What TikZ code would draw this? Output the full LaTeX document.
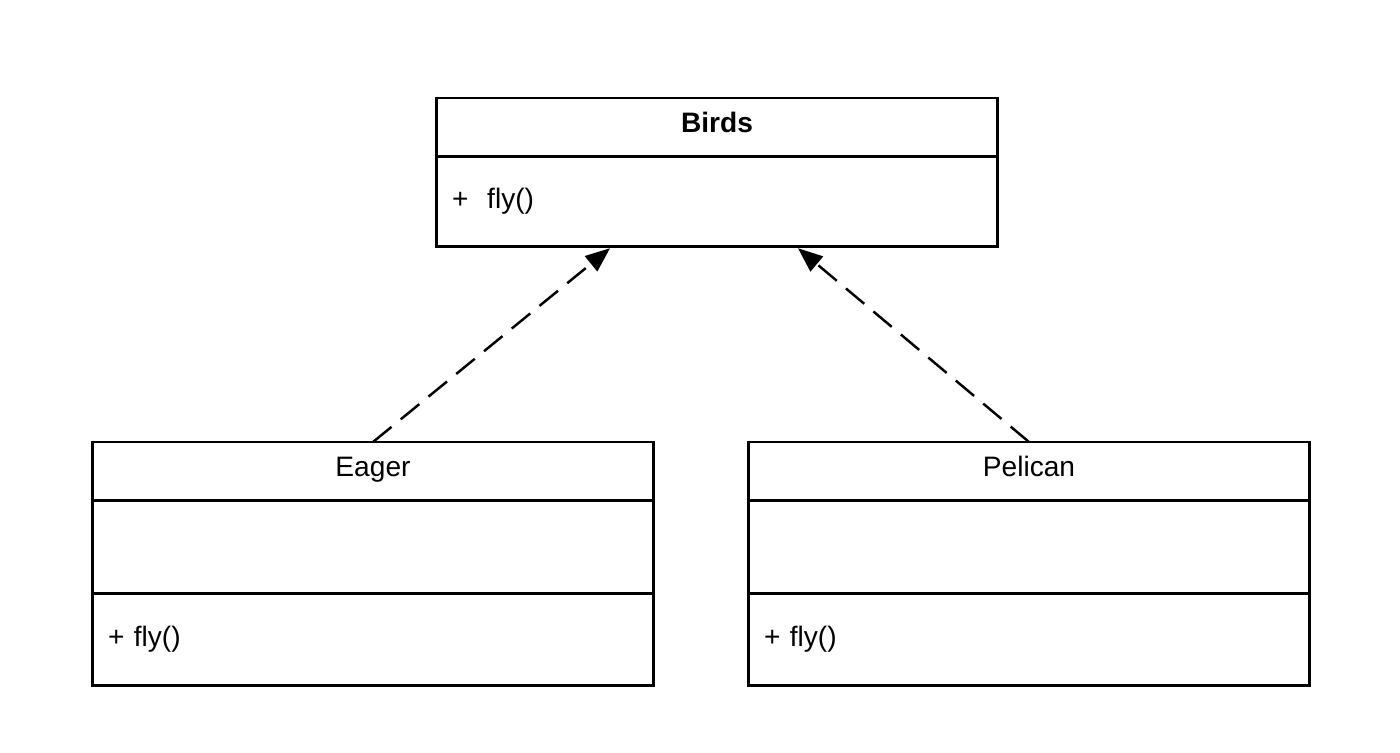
\documentclass[tikz,border=0pt]{standalone}
\usepackage{fontspec}
\setmainfont{Liberation Sans}
\usetikzlibrary{positioning,arrows.meta}
\tikzset{class name/.style={draw,line width=1.3pt,minimum width=11.24cm,minimum height=1.17cm,inner sep=0pt,outer sep=0pt,text height=0.72em,text depth=0.12em,font=\fontsize{16}{19}\selectfont},
	class part/.style={draw,line width=1.3pt,minimum width=11.24cm,text width=10.6cm,inner xsep=0.32cm,inner ysep=0pt,outer sep=0pt,align=left,font=\fontsize{16}{19}\selectfont},
	class frame/.style={line width=1.7pt},
	dep line/.style={line width=1.4pt,dash pattern=on 13.6pt off 6.8pt,-{Triangle[length=14pt,width=11pt]}},
}

\begin{document}
\begin{tikzpicture}[x=0.02cm,y=-0.02cm]
			\useasboundingbox (0,0) rectangle (1400,753);
			
			%% parent class
			\node[class name,font=\fontsize{16}{19}\selectfont\bfseries,anchor=north] (birds) at (717,98) {Birds};
			\node[class part,minimum height=1.8cm] (birdsops) [below = 0pt of birds] {+\ \ fly()};
			\draw[class frame] (birds.north west) rectangle (birdsops.south east);
			
			%% children
			\node[class name,anchor=north] (eager) at (373,442) {Eager};
			\node[class part,minimum height=1.86cm] (eagerattr) [below = 0pt of eager] {};
			\node[class part,minimum height=1.84cm] (eagerops) [below = 0pt of eagerattr] {+ fly()};
			\draw[class frame] (eager.north west) rectangle (eagerops.south east);
			
			\node[class name,anchor=north] (pelican) at (1029,442) {Pelican};
			\node[class part,minimum height=1.86cm] (pelicanattr) [below = 0pt of pelican] {};
			\node[class part,minimum height=1.84cm] (pelicanops) [below = 0pt of pelicanattr] {+ fly()};
			\draw[class frame] (pelican.north west) rectangle (pelicanops.south east);
			
			\draw[dep line] (eager.north) -- ([xshift=-2.14cm,yshift=-1pt]birdsops.south);
			\draw[dep line] (pelican.north) -- ([xshift=1.62cm,yshift=-1pt]birdsops.south);
			\end{tikzpicture}
\end{document}
